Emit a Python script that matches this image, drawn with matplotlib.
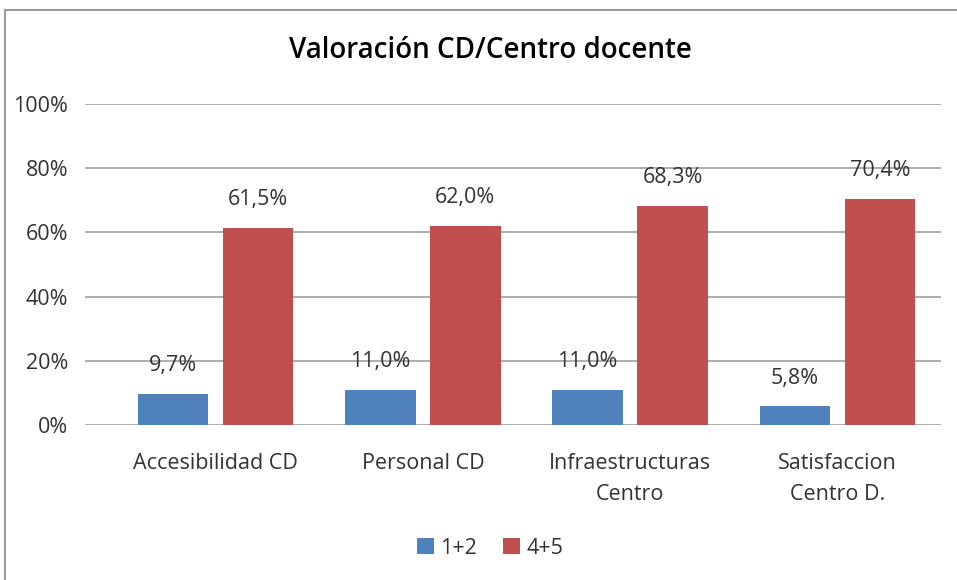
import matplotlib.pyplot as plt
from matplotlib.patches import Rectangle
from matplotlib.ticker import FuncFormatter

categories = ['Accesibilidad CD', 'Personal CD', 'Infraestructuras\nCentro', 'Satisfaccion\nCentro D.']
series_names = ['1+2', '4+5']
low_vals = [9.7, 11.0, 11.0, 5.8]
high_vals = [61.5, 62.0, 68.3, 70.4]
colors = ['#4F81BD', '#C0504D']

plt.rcParams['font.family'] = ['Open Sans', 'DejaVu Sans']

fig = plt.figure(figsize=(9.57, 5.80), dpi=100)
fig.patches.append(Rectangle((5 / 957, -0.1), 1.1, 1 - 10 / 580 + 0.1,
                             transform=fig.transFigure, fill=False,
                             edgecolor='#9a9a9a', linewidth=1.5))

ax = fig.add_axes([85 / 957, 1 - 425 / 580, (941 - 85) / 957, (425 - 104) / 580])

x = list(range(len(categories)))
w = 0.34
off = 0.205
for vals, name, c, d in [(low_vals, series_names[0], colors[0], -off),
                         (high_vals, series_names[1], colors[1], off)]:
    xs = [i + d for i in x]
    ax.bar(xs, vals, width=w, color=c, label=name, zorder=3)
    for xi, v in zip(xs, vals):
        ax.text(xi, v + 5.5, f'{v:.1f}%'.replace('.', ','), ha='center', va='bottom',
                fontsize=15.5, color='#333333', zorder=4)

ax.set_xlim(-0.63, 3.5)
ax.set_ylim(0, 100)
ax.set_yticks(range(0, 101, 20))
ax.yaxis.set_major_formatter(FuncFormatter(lambda v, p: f'{v:.0f}%'))
ax.grid(axis='y', color='#a0a0a0', linewidth=1.2, zorder=0)
for s in ax.spines.values():
    s.set_visible(False)
ax.tick_params(axis='both', length=0, labelsize=15.5, colors='#333333')
ax.tick_params(axis='y', pad=12)
ax.set_xticks(x)
ax.set_xticklabels(categories, linespacing=1.65)
ax.tick_params(axis='x', pad=20)

fig.text(490 / 957, 1 - 51 / 580, 'Valoración CD/Centro docente', ha='center', va='center',
         fontsize=20, fontweight='semibold', color='black')

fig.legend(loc='center', bbox_to_anchor=(490 / 957, 1 - 548 / 580), ncol=2, frameon=False,
           fontsize=15.5, handlelength=0.8, handleheight=0.8, handletextpad=0.3,
           columnspacing=1.2, labelcolor='#333333')

fig.savefig('out.png', dpi=100)
